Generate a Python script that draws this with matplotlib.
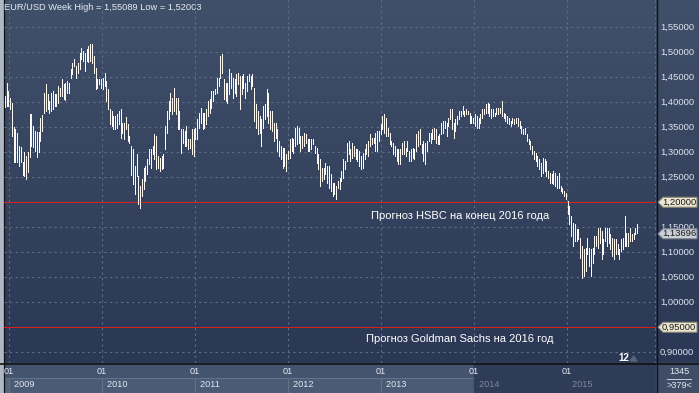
import numpy as np
import pandas as pd
import matplotlib
matplotlib.use('Agg')
import matplotlib.pyplot as plt
import matplotlib.dates as mdates
from matplotlib.colors import LinearSegmentedColormap
from matplotlib.patches import Polygon, Rectangle
from matplotlib.transforms import blended_transform_factory

plt.rcParams['font.family'] = ['Liberation Sans', 'DejaVu Sans']

# weekly high / low of EUR/USD, one bar per week from mid-Dec 2008
highs_a = [1.413, 1.439, 1.423, 1.408, 1.398, 1.350, 1.346, 1.338, 1.313, 1.310,
           1.280, 1.300, 1.293, 1.300, 1.376, 1.376, 1.353, 1.343, 1.340, 1.340,
           1.368, 1.374, 1.419, 1.436, 1.416, 1.403, 1.419, 1.423, 1.416, 1.416,
           1.433, 1.429, 1.446, 1.436, 1.439, 1.443, 1.439, 1.466, 1.479, 1.486,
           1.473, 1.479, 1.499, 1.509, 1.503, 1.499, 1.506, 1.513, 1.516, 1.516,
           1.493, 1.469, 1.446, 1.446, 1.446, 1.449, 1.459, 1.443, 1.426, 1.386,
           1.383, 1.373, 1.373, 1.376, 1.383, 1.386, 1.359, 1.359, 1.371, 1.356,
           1.333, 1.313, 1.306]
lows_a = [1.391, 1.393, 1.393, 1.386, 1.333, 1.280, 1.280, 1.280, 1.273, 1.280,
          1.255, 1.253, 1.247, 1.260, 1.290, 1.313, 1.310, 1.303, 1.290, 1.300,
          1.323, 1.343, 1.379, 1.383, 1.386, 1.379, 1.383, 1.386, 1.393, 1.393,
          1.399, 1.413, 1.413, 1.406, 1.404, 1.419, 1.419, 1.449, 1.456, 1.473,
          1.449, 1.459, 1.466, 1.486, 1.483, 1.463, 1.483, 1.481, 1.483, 1.479,
          1.459, 1.426, 1.429, 1.436, 1.429, 1.426, 1.433, 1.403, 1.386, 1.356,
          1.353, 1.346, 1.346, 1.349, 1.356, 1.329, 1.339, 1.326, 1.346, 1.323,
          1.319, 1.255, 1.236]

highs_b = [1.273, 1.296, 1.253, 1.233, 1.246, 1.269, 1.273, 1.286, 1.306, 1.306,
           1.313, 1.336, 1.333, 1.293, 1.289, 1.293, 1.296, 1.353, 1.383, 1.403,
           1.419, 1.409, 1.429, 1.409, 1.409, 1.383, 1.346, 1.346, 1.343, 1.353,
           1.326, 1.326, 1.346, 1.346, 1.349, 1.366, 1.379, 1.389, 1.379, 1.379,
           1.386, 1.403, 1.406, 1.423, 1.423, 1.426, 1.449, 1.449, 1.493, 1.496,
           1.446, 1.439, 1.439, 1.466, 1.459, 1.449, 1.446, 1.456, 1.459, 1.453,
           1.453, 1.456, 1.439, 1.453, 1.456, 1.453, 1.456, 1.429, 1.396, 1.383,
           1.373, 1.366, 1.393, 1.396]
lows_b = [1.216, 1.253, 1.196, 1.189, 1.213, 1.226, 1.243, 1.256, 1.276, 1.269,
          1.296, 1.286, 1.266, 1.269, 1.263, 1.266, 1.269, 1.306, 1.339, 1.366,
          1.383, 1.376, 1.383, 1.376, 1.346, 1.346, 1.299, 1.319, 1.313, 1.313,
          1.306, 1.309, 1.296, 1.293, 1.326, 1.326, 1.349, 1.359, 1.346, 1.349,
          1.356, 1.373, 1.379, 1.389, 1.403, 1.416, 1.419, 1.433, 1.449, 1.459,
          1.406, 1.403, 1.399, 1.416, 1.429, 1.409, 1.419, 1.413, 1.436, 1.386,
          1.416, 1.429, 1.409, 1.423, 1.443, 1.426, 1.433, 1.363, 1.349, 1.336,
          1.339, 1.313, 1.349, 1.366]

highs_c = [1.426, 1.419, 1.383, 1.383, 1.359, 1.359, 1.346, 1.323, 1.313, 1.309,
           1.309, 1.296, 1.303, 1.326, 1.329, 1.326, 1.349, 1.353, 1.349, 1.333,
           1.333, 1.339, 1.336, 1.326, 1.326, 1.326, 1.326, 1.313, 1.309, 1.296,
           1.286, 1.269, 1.269, 1.279, 1.273, 1.273, 1.256, 1.239, 1.239, 1.233,
           1.243, 1.249, 1.263, 1.286, 1.283, 1.319, 1.323, 1.306, 1.319, 1.313,
           1.306, 1.306, 1.303, 1.293, 1.299, 1.306, 1.316, 1.323, 1.336, 1.329,
           1.329, 1.339, 1.343, 1.343, 1.356, 1.373, 1.376, 1.369, 1.349, 1.339,
           1.323, 1.319, 1.313]
lows_c = [1.373, 1.359, 1.346, 1.343, 1.323, 1.329, 1.303, 1.293, 1.286, 1.269,
          1.273, 1.263, 1.286, 1.289, 1.303, 1.299, 1.313, 1.316, 1.319, 1.303,
          1.309, 1.313, 1.319, 1.303, 1.303, 1.306, 1.316, 1.299, 1.279, 1.266,
          1.233, 1.243, 1.246, 1.256, 1.239, 1.229, 1.223, 1.213, 1.216, 1.206,
          1.229, 1.226, 1.243, 1.249, 1.266, 1.283, 1.296, 1.283, 1.289, 1.293,
          1.286, 1.283, 1.273, 1.266, 1.269, 1.286, 1.296, 1.293, 1.313, 1.316,
          1.319, 1.303, 1.303, 1.323, 1.336, 1.346, 1.339, 1.333, 1.333, 1.316,
          1.313, 1.296, 1.293]

highs_d = [1.306, 1.306, 1.306, 1.319, 1.323, 1.309, 1.323, 1.303, 1.306, 1.309,
           1.306, 1.336, 1.343, 1.346, 1.316, 1.323, 1.319, 1.323, 1.339, 1.339,
           1.346, 1.349, 1.346, 1.333, 1.336, 1.359, 1.363, 1.363, 1.359, 1.369,
           1.386, 1.386, 1.359, 1.366, 1.373, 1.383, 1.383, 1.393, 1.383, 1.386,
           1.383, 1.379, 1.373, 1.369, 1.376, 1.373, 1.369, 1.376, 1.386, 1.386,
           1.396, 1.399, 1.396, 1.386, 1.386, 1.379, 1.389, 1.389, 1.389, 1.403,
           1.379, 1.376, 1.373, 1.369, 1.363, 1.369, 1.366, 1.369, 1.369, 1.363,
           1.353, 1.346, 1.349, 1.336]
lows_d = [1.283, 1.276, 1.276, 1.296, 1.296, 1.293, 1.303, 1.283, 1.283, 1.289,
          1.286, 1.303, 1.313, 1.316, 1.299, 1.283, 1.276, 1.303, 1.323, 1.319,
          1.326, 1.326, 1.319, 1.316, 1.316, 1.336, 1.339, 1.349, 1.333, 1.353,
          1.366, 1.346, 1.329, 1.343, 1.356, 1.366, 1.373, 1.376, 1.373, 1.376,
          1.376, 1.359, 1.359, 1.359, 1.353, 1.349, 1.349, 1.359, 1.369, 1.376,
          1.379, 1.379, 1.373, 1.369, 1.373, 1.373, 1.376, 1.376, 1.379, 1.373,
          1.369, 1.363, 1.359, 1.356, 1.353, 1.359, 1.356, 1.359, 1.353, 1.349,
          1.339, 1.336, 1.336, 1.323]

highs_e = [1.326, 1.323, 1.313, 1.303, 1.299, 1.293, 1.286, 1.279, 1.289, 1.286,
           1.283, 1.263, 1.259, 1.256, 1.263, 1.259, 1.253, 1.259, 1.233, 1.229,
           1.223, 1.219, 1.203, 1.193, 1.173, 1.159, 1.156, 1.146, 1.146, 1.129,
           1.113, 1.106, 1.109, 1.129, 1.109, 1.106, 1.109, 1.133, 1.133, 1.149,
           1.149, 1.143, 1.126, 1.149, 1.149, 1.149, 1.136, 1.129, 1.126, 1.126,
           1.116, 1.106, 1.126, 1.129, 1.173, 1.139, 1.139, 1.149, 1.136, 1.139,
           1.149, 1.156]
lows_e = [1.316, 1.306, 1.296, 1.286, 1.283, 1.273, 1.266, 1.253, 1.259, 1.263,
          1.253, 1.249, 1.239, 1.239, 1.236, 1.233, 1.229, 1.229, 1.223, 1.219,
          1.213, 1.206, 1.176, 1.156, 1.133, 1.113, 1.123, 1.123, 1.126, 1.089,
          1.049, 1.053, 1.063, 1.096, 1.073, 1.053, 1.079, 1.096, 1.113, 1.109,
          1.119, 1.086, 1.096, 1.123, 1.113, 1.119, 1.106, 1.093, 1.086, 1.096,
          1.096, 1.086, 1.103, 1.106, 1.113, 1.113, 1.113, 1.123, 1.123, 1.126,
          1.136, 1.139]

highs = highs_a + highs_b + highs_c + highs_d + highs_e
lows = lows_a + lows_b + lows_c + lows_d + lows_e
weeks = pd.date_range('2008-12-15', periods=len(highs), freq='7D')

price_ticks = [1.55, 1.50, 1.45, 1.40, 1.35, 1.30, 1.25, 1.20, 1.15, 1.10,
               1.05, 1.00, 0.95, 0.90]
years = [2009, 2010, 2011, 2012, 2013, 2014, 2015]
hsbc_level = 1.20
gs_level = 0.95
last_price = 1.13696

W, H = 699, 393
PLOT_L, PLOT_R, PLOT_B = 4, 656, 363
GRID = '#5e6d88'
TXT = '#e2e8f0'

fig = plt.figure(figsize=(W / 100, H / 100), dpi=100)

# background layer in pixel coordinates
bg = fig.add_axes([0, 0, 1, 1])
bg.set_xlim(0, W)
bg.set_ylim(H, 0)
bg.axis('off')
grad = np.linspace(0, 1, 256).reshape(-1, 1)
cmap = LinearSegmentedColormap.from_list('bg', ['#404f6a', '#2b3855'])
bg.imshow(grad, cmap=cmap, extent=[0, W, PLOT_B, 0], aspect='auto', zorder=0)

# main chart
ax = fig.add_axes([PLOT_L / W, 1 - PLOT_B / H, (PLOT_R - PLOT_L) / W, PLOT_B / H])
ax.patch.set_visible(False)
ax.axis('off')
ax.set_xlim(pd.Timestamp('2008-12-12'), pd.Timestamp('2015-12-18'))
ax.set_ylim(0.8785, 1.6045)

for p in price_ticks:
    if p in (hsbc_level, gs_level):
        continue
    ax.axhline(p, color=GRID, lw=0.8, ls=(0, (2, 3)), zorder=1)
year_dates = [pd.Timestamp(f'{y}-01-01') for y in years]
for d in year_dates:
    ax.axvline(d, color=GRID, lw=0.8, ls=(0, (2, 3)), zorder=1)

# forecast levels: one-pixel red bands, drawn without smoothing
for lvl in (hsbc_level, gs_level):
    ax.axhspan(lvl - 0.001, lvl + 0.001, color='#dc1e1e', lw=0, zorder=2,
               antialiased=False)

ax.vlines(weeks, lows, highs, color='#fdf7f2', lw=0.72, zorder=3, antialiased=False)

# bottom time axis (x from dates, y in pixels)
tx = blended_transform_factory(ax.transData, bg.transData)
bg.add_patch(Rectangle((0, PLOT_B), W, H - PLOT_B, color='#45546e', zorder=1))
xnums = [mdates.date2num(d) for d in year_dates]
xend = mdates.date2num(pd.Timestamp('2015-12-18'))
for i, x0 in enumerate(xnums):
    x1 = xnums[i + 1] if i + 1 < len(xnums) else xend
    bg.add_patch(Rectangle((x0, 378), x1 - x0, 15, transform=tx, facecolor='#4b5b76',
                           edgecolor='#63728c', lw=0.8, zorder=2))
bg.add_patch(Rectangle((3, 378), 6, 15, facecolor='#56657e', edgecolor='#63728c',
                       lw=0.8, zorder=2))
bg.add_patch(Rectangle((xnums[5], PLOT_B), xend - xnums[5], H - PLOT_B, transform=tx,
                       color='#2f3c57', zorder=3))
for i, (x0, yr) in enumerate(zip(xnums, years)):
    bg.text(x0, 372, '01', transform=tx, ha='center', va='center', fontsize=6.6,
            color=TXT, zorder=5)
    bg.text(x0, 384.5, '  ' + str(yr), transform=tx, ha='left', va='center', fontsize=6.6,
            color='#7d889b' if i >= 5 else TXT, zorder=5)

# bottom-right corner
bg.add_patch(Rectangle((PLOT_R, PLOT_B), W - PLOT_R, H - PLOT_B, color='#3f4d67', zorder=3))
bg.text(679, 371.5, '1345', ha='center', va='center', fontsize=6.6, color=TXT, zorder=5)
bg.plot([667, 691], [378.5, 378.5], color='#c8d0dc', lw=0.7, zorder=5)
bg.text(679, 385, '>379<', ha='center', va='center', fontsize=6.6, color=TXT, zorder=5)

# frame lines
bg.add_patch(Rectangle((0, 0), 3, H, color='#aeb7c4', zorder=4))
bg.plot([3.5, 3.5], [0, H], color='#111111', lw=0.9, zorder=4)
bg.plot([0, W], [PLOT_B + 0.5, PLOT_B + 0.5], color='#111111', lw=1.2, zorder=4)
bg.plot([657, 657], [0, H], color='#111111', lw=1.0, zorder=4)
bg.plot([655, 655], [0, PLOT_B], color=GRID, lw=0.8, ls=(0, (2, 3)), zorder=2)

# texts in the chart
bg.text(4, 8, 'EUR/USD Week High = 1,55089 Low = 1,52003', ha='left', va='center',
        fontsize=6.7, color='#e6ebf2', zorder=6)
ty = blended_transform_factory(bg.transData, ax.transData)
ax.text(371, 1.173, 'Прогноз HSBC на конец 2016 года', transform=ty,
        ha='left', va='center', fontsize=8.0, color='white')
ax.text(366, 0.926, 'Прогноз Goldman Sachs на 2016 год', transform=ty,
        ha='left', va='center', fontsize=8.0, color='white')
bg.text(618, 358, '12', ha='left', va='center', fontsize=7, color='white',
        fontweight='bold', zorder=6)
bg.add_patch(Polygon([(630, 361), (637, 361), (633.5, 356)], closed=True,
                     color='#56647d', zorder=6))

# price scale
fmt = lambda v: '{:.5f}'.format(v).replace('.', ',')
for p in price_ticks:
    if p in (hsbc_level, gs_level):
        continue
    ax.text(660, p, fmt(p), transform=ty, ha='left', va='center', fontsize=6.8,
            color='#dde4ee', clip_on=False)

half = 5 / 500
def tag(level, face, edge):
    pts = [(658, level), (663, level + half), (697, level + half),
           (697, level - half), (663, level - half)]
    ax.add_patch(Polygon(pts, closed=True, transform=ty, facecolor=face,
                         edgecolor=edge, lw=0.8, clip_on=False, zorder=6))
    ax.text(662, level, fmt(level), transform=ty, ha='left', va='center',
            fontsize=6.8, color='#1a1a1a', clip_on=False, zorder=7)

tag(hsbc_level, '#ece7d2', '#8a8670')
tag(last_price, '#c9ced7', '#7d8390')
tag(gs_level, '#ece7d2', '#8a8670')

fig.savefig('out.png', dpi=100)
